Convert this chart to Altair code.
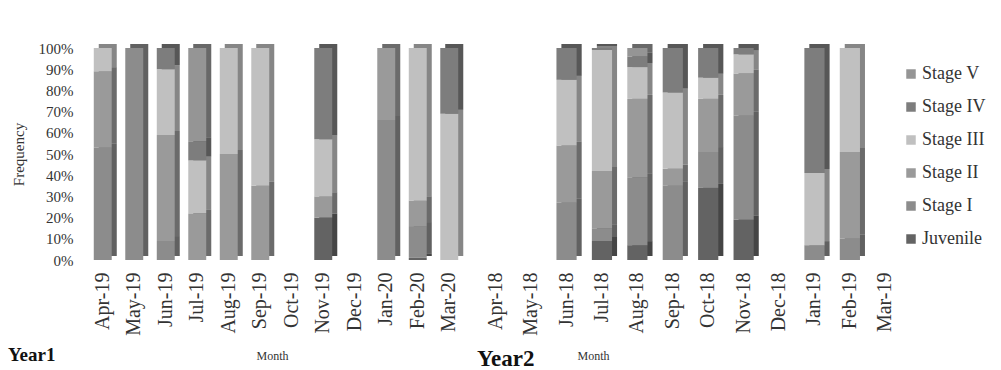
import altair as alt
import pandas as pd

# Maturity stages: legend order (top to bottom) and fill shades
STAGES = ["Stage V", "Stage IV", "Stage III", "Stage II", "Stage I", "Juvenile"]
SHADES = ["#959595", "#7d7d7d", "#c0c0c0", "#9a9a9a", "#8c8c8c", "#636363"]
# Stacking order from the baseline upwards
STACK_ORDER = ["Juvenile", "Stage I", "Stage II", "Stage III", "Stage IV", "Stage V"]

# Year 1 (Apr-19 .. Mar-20), percentage of individuals per stage
months_y1 = ["Apr-19", "May-19", "Jun-19", "Jul-19", "Aug-19", "Sep-19",
             "Oct-19", "Nov-19", "Dec-19", "Jan-20", "Feb-20", "Mar-20"]
y1_juvenile = [0, 0, 0, 0, 0, 0, 0, 20, 0, 0, 1, 0]
y1_stage_i = [53, 100, 9, 0, 0, 0, 0, 0, 0, 66, 15, 0]
y1_stage_ii = [36, 0, 50, 22, 50, 35, 0, 10, 0, 34, 12, 0]
y1_stage_iii = [11, 0, 31, 25, 50, 65, 0, 27, 0, 0, 72, 69]
y1_stage_iv = [0, 0, 10, 9, 0, 0, 0, 43, 0, 0, 0, 31]
y1_stage_v = [0, 0, 0, 44, 0, 0, 0, 0, 0, 0, 0, 0]

# Year 2 (Apr-18 .. Mar-19)
months_y2 = ["Apr-18", "May-18", "Jun-18", "Jul-18", "Aug-18", "Sep-18",
             "Oct-18", "Nov-18", "Dec-18", "Jan-19", "Feb-19", "Mar-19"]
y2_juvenile = [0, 0, 0, 9, 7, 0, 34, 19, 0, 0, 0, 0]
y2_stage_i = [0, 0, 27, 6, 32, 35, 17, 49, 0, 7, 10, 0]
y2_stage_ii = [0, 0, 27, 27, 37, 8, 25, 20, 0, 0, 41, 0]
y2_stage_iii = [0, 0, 31, 57, 15, 36, 10, 9, 0, 34, 49, 0]
y2_stage_iv = [0, 0, 15, 1, 5, 21, 14, 3, 0, 59, 0, 0]
y2_stage_v = [0, 0, 0, 0, 4, 0, 0, 0, 0, 0, 0, 0]

SERIF = "Liberation Serif"


def long_frame(months, series):
    rows = []
    for stage, values in series.items():
        for month, v in zip(months, values):
            if v > 0:
                rows.append({"month": month, "stage": stage, "pct": v,
                             "rank": STACK_ORDER.index(stage)})
    return pd.DataFrame(rows)


df1 = long_frame(months_y1, {
    "Juvenile": y1_juvenile, "Stage I": y1_stage_i, "Stage II": y1_stage_ii,
    "Stage III": y1_stage_iii, "Stage IV": y1_stage_iv, "Stage V": y1_stage_v,
})
df2 = long_frame(months_y2, {
    "Juvenile": y2_juvenile, "Stage I": y2_stage_i, "Stage II": y2_stage_ii,
    "Stage III": y2_stage_iii, "Stage IV": y2_stage_iv, "Stage V": y2_stage_v,
})

color_enc = alt.Color("stage:N", scale=alt.Scale(domain=STAGES, range=SHADES),
                      sort=STAGES, legend=alt.Legend(title=None))


def panel(df, months, width, show_y, month_x, year_label, year_x, year_y, year_size):
    x_enc = alt.X(
        "month:N",
        scale=alt.Scale(domain=months, paddingInner=0.43, paddingOuter=0.215),
        axis=alt.Axis(title="Month", labelAngle=-90, labelPadding=12,
                      labelFont=SERIF, labelFontSize=20, labelColor="#333333",
                      titleFont=SERIF, titleFontSize=12, titleFontWeight="normal",
                      titleColor="#333333", titleX=month_x, titleY=95,
                      titleAlign="center", titleBaseline="middle"),
    )
    if show_y:
        y_axis = alt.Axis(title="Frequency", values=list(range(0, 101, 10)),
                          labelExpr="datum.value + '%'", labelPadding=14,
                          labelFont=SERIF, labelFontSize=15, labelColor="#333333",
                          titleFont=SERIF, titleFontSize=15, titleFontWeight="normal",
                          titleColor="#333333", titlePadding=12)
    else:
        y_axis = None
    y_enc = alt.Y("pct:Q", stack="zero",
                  scale=alt.Scale(domain=[0, 100], nice=False), axis=y_axis)
    order = alt.Order("rank:Q", sort="ascending")

    base = alt.Chart(df)
    # side and top faces of the pseudo-3D columns
    back = base.mark_bar(xOffset=5, x2Offset=5, yOffset=-4, y2Offset=-4).encode(
        x=x_enc, y=y_enc, color=color_enc, order=order,
    )
    shade = base.mark_bar(xOffset=5, x2Offset=5, yOffset=-4, y2Offset=-4,
                          color="black", opacity=0.3).encode(
        x=x_enc, y=y_enc, detail="stage:N", order=order,
    )
    front = base.mark_bar().encode(
        x=x_enc, y=y_enc, color=color_enc, order=order,
    )
    label = alt.Chart(pd.DataFrame({"t": [year_label]})).mark_text(
        font=SERIF, fontSize=year_size, fontWeight="bold", color="#111111",
        align="left", baseline="alphabetic",
    ).encode(text="t:N", x=alt.value(year_x), y=alt.value(year_y))
    return alt.layer(back, shade, front, label).properties(width=width, height=212)


left = panel(df1, months_y1, 378, True, 185, "Year1", -79, 313, 19)
right = panel(df2, months_y2, 425, False, 115, "Year2", -1, 318, 23)

chart = alt.hconcat(left, right, spacing=12).properties(
    padding={"left": 8, "top": 41, "right": 0, "bottom": 0},
).configure_view(stroke=None).configure_axis(
    grid=False, domain=False, ticks=False,
).configure_legend(
    orient="none", legendX=815, legendY=17,
    symbolType="square", symbolSize=90, symbolStrokeWidth=0,
    labelFont=SERIF, labelFontSize=18, labelColor="#333333",
    rowPadding=15, labelOffset=2,
)

chart.save("out.html", embed_options={"renderer": "svg", "actions": False})
